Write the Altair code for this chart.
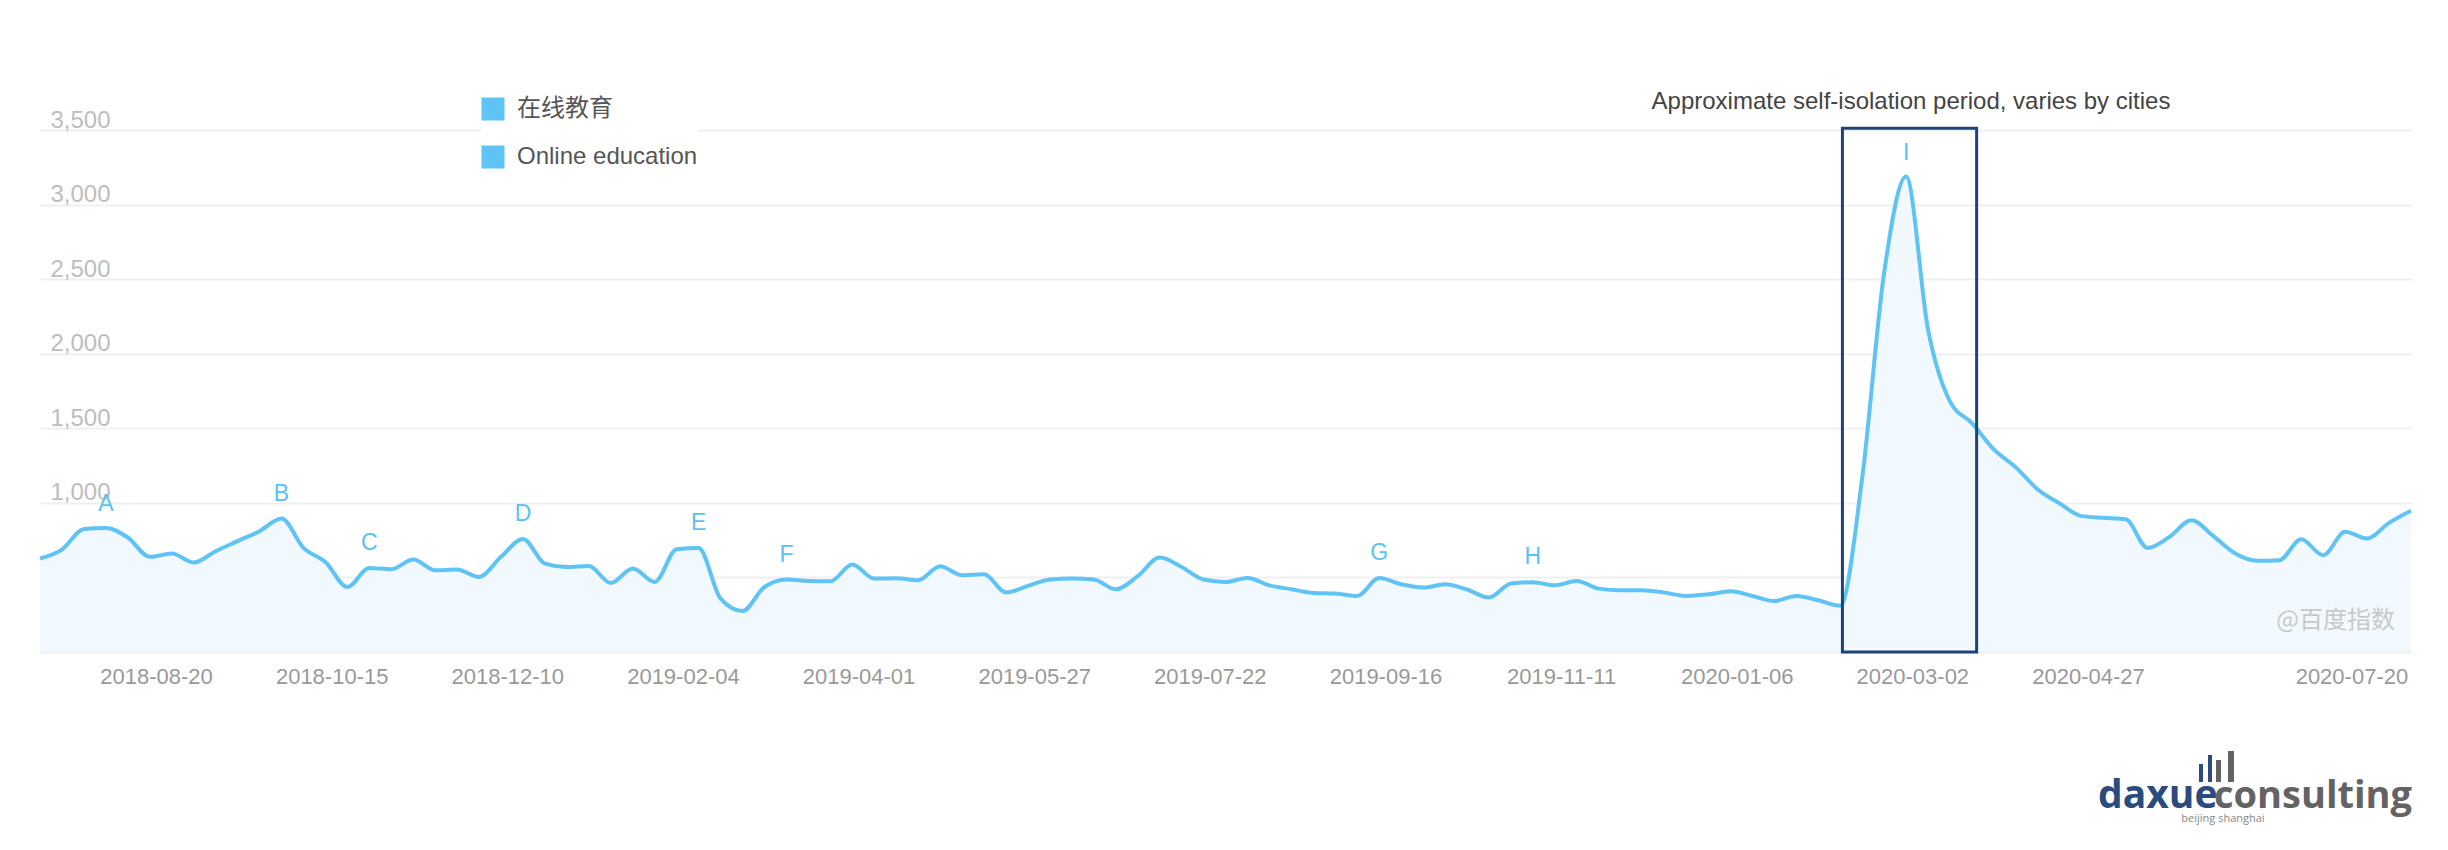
import altair as alt
import pandas as pd

# ---------------- data ----------------
start_date = "2018-07-14"
end_date = "2020-08-08"
week_values = [
    627, 687, 824, 832, 768, 638, 660, 600, 676, 743,
    810, 895, 698, 604, 436, 564, 555, 620, 548, 553,
    503, 638, 758, 593, 570, 577, 463, 560, 470, 689,
    698, 358, 275, 436, 486, 476, 474, 586, 492, 494,
    481, 575, 515, 521, 400, 443, 486, 492, 486, 421,
    508, 633, 570, 486, 470, 496, 447, 421, 396, 392,
    376, 496, 454, 432, 454, 419, 365, 459, 468, 447,
    476, 425, 414, 414, 398, 376, 387, 407, 376, 342,
    376, 347, 310, 1165, 2542, 3188, 2163, 1680, 1535, 1358,
    1238, 1090, 996, 911, 900, 891, 698, 772, 884, 777,
    660, 611, 615, 756, 649, 806, 761, 866, 947,
]
series_name = "在线教育"
legend_names = ["在线教育", "Online education"]

x_tick_dates = [
    "2018-08-20", "2018-10-15", "2018-12-10", "2019-02-04", "2019-04-01",
    "2019-05-27", "2019-07-22", "2019-09-16", "2019-11-11", "2020-01-06",
    "2020-03-02", "2020-04-27", "2020-07-20",
]
y_ticks = [500, 1000, 1500, 2000, 2500, 3000, 3500]

letters = ["A", "B", "C", "D", "E", "F", "G", "H", "I"]
letter_dates = ["2018-08-04", "2018-09-29", "2018-10-27", "2018-12-15", "2019-02-09",
                "2019-03-09", "2019-09-14", "2019-11-02", "2020-02-29"]
letter_values = [947, 1014, 684, 880, 818, 601, 617, 588, 3300]

box_start = "2020-02-08T17:00:00"
box_end = "2020-03-22T12:00:00"
box_top = 3511
annotation_text = "Approximate self-isolation period, varies by cities"
annotation_date = "2020-03-01T14:00:00"
annotation_value = 3639
watermark_text = "@百度指数"

# ---------------- styling ----------------
LINE = "#5fc3f4"
AREA = "#f2f9fe"
NAVY = "#1d4477"
FONT = "Liberation Sans, Arial, Helvetica, Noto Sans CJK SC, sans-serif"
CJK = "Noto Sans CJK SC, Liberation Sans, sans-serif"


def dt(s):
    t = pd.Timestamp(s)
    return alt.DateTime(year=t.year, month=t.month, date=t.day)


dates = pd.date_range(start_date, periods=len(week_values), freq="7D")
df = pd.DataFrame({"date": dates, "value": week_values, "series": series_name})

x_scale = alt.Scale(domain=[dt(start_date), dt(end_date)], nice=False)
y_scale = alt.Scale(domain=[0, 3500], nice=False, zero=True)

x_axis = alt.Axis(
    values=[dt(d) for d in x_tick_dates], format="%Y-%m-%d", title=None,
    ticks=False, grid=False, domain=True, domainColor="#eeeeee", domainWidth=2,
    labelFontSize=22, labelColor="#999999", labelFont=FONT, labelPadding=14,
    labelFlush=False, labelOverlap=False,
)
y_axis = alt.Axis(
    values=y_ticks, format=",.0f", title=None, ticks=False, domain=False,
    grid=True, gridColor="#efefef", gridWidth=2,
    labelAlign="left", labelBaseline="alphabetic", labelPadding=-10,
    labelOffset=-3, labelFontSize=24, labelColor="#bdbdbd", labelFont=FONT,
    labelOverlap=False, labelFlush=False,
)

base = alt.Chart(df).encode(
    x=alt.X("date:T", scale=x_scale, axis=x_axis),
    y=alt.Y("value:Q", scale=y_scale, axis=y_axis),
)
area = base.mark_area(color=AREA, interpolate="monotone")
line = base.mark_line(color=LINE, strokeWidth=4, interpolate="monotone")

letters_df = pd.DataFrame({"letter": letters, "date": pd.to_datetime(letter_dates),
                           "value": letter_values})
letter_layer = alt.Chart(letters_df).mark_text(
    fontSize=23, color="#5cc1f2", font=FONT, align="center", baseline="alphabetic"
).encode(x="date:T", y="value:Q", text="letter:N")

box_df = pd.DataFrame({"start": [pd.Timestamp(box_start)], "end": [pd.Timestamp(box_end)],
                       "top": [box_top], "bottom": [0]})
box = alt.Chart(box_df).mark_rect(fill="transparent", stroke=NAVY, strokeWidth=3).encode(
    x="start:T", x2="end:T", y="top:Q", y2="bottom:Q"
)

ann_df = pd.DataFrame({"text": [annotation_text], "date": [pd.Timestamp(annotation_date)],
                       "value": [annotation_value]})
ann = alt.Chart(ann_df).mark_text(
    fontSize=24, color="#444444", font=FONT, align="center", baseline="alphabetic"
).encode(x="date:T", y="value:Q", text="text:N")

legend_df = pd.DataFrame({"series": legend_names})
legend_layer = alt.Chart(legend_df).mark_square(opacity=0).encode(
    color=alt.Color(
        "series:N",
        scale=alt.Scale(domain=legend_names, range=[LINE, LINE]),
        sort=legend_names,
        legend=alt.Legend(
            title=None, orient="none", legendX=441, legendY=-33, direction="vertical",
            symbolType="square", symbolSize=529, symbolOpacity=1, symbolStrokeWidth=0,
            labelFontSize=24, labelFont=FONT, labelColor="#555555", labelOffset=12,
            labelLimit=500, rowPadding=24, padding=0, fillColor="white",
        ),
    )
)

wm = alt.Chart(pd.DataFrame({"t": [watermark_text]})).mark_text(
    fontSize=24, color="#c8c8c8", font=CJK, align="right", baseline="alphabetic"
).encode(text="t:N", x=alt.value(2355), y=alt.value(498))

# logo (decorative)
one = pd.DataFrame({"k": [0]})
logo_daxue = alt.Chart(one).mark_text(
    text="daxue", fontSize=39, fontWeight="bold", font="Open Sans", color="#2b4a7e",
    align="left", baseline="alphabetic"
).encode(x=alt.value(2058), y=alt.value(678))
logo_cons = alt.Chart(one).mark_text(
    text="consulting", fontSize=38, fontWeight="bold", font="Open Sans", color="#636363",
    align="left", baseline="alphabetic"
).encode(x=alt.value(2174), y=alt.value(678))
logo_sub = alt.Chart(one).mark_text(
    text="beijing shanghai", fontSize=11, font="Open Sans", color="#888888",
    align="center", baseline="top"
).encode(x=alt.value(2183), y=alt.value(683))
bar_specs = [(2159, 2163, 634, "#2b4a7e"), (2168, 2172, 625, "#2b4a7e"),
             (2176, 2181, 630, "#636363"), (2188, 2194, 621, "#636363")]
logo_bars = [
    alt.Chart(one).mark_rect(color=c).encode(
        x=alt.value(a), x2=alt.value(b), y=alt.value(t), y2=alt.value(652)
    )
    for a, b, t, c in bar_specs
]

chart = alt.layer(
    area, line, box, letter_layer, ann, legend_layer, wm,
    logo_daxue, logo_cons, logo_sub, *logo_bars
).properties(
    width=2371, height=522,
    padding={"left": 32, "top": 122, "right": 20, "bottom": 180},
    autosize=alt.AutoSizeParams(type="none"),
    background="white",
).configure_view(stroke=None, strokeWidth=0)

chart.save("out.html", embed_options={"renderer": "svg", "actions": False})
